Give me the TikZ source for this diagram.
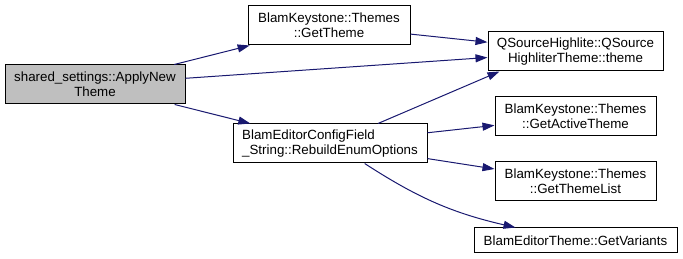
\documentclass[tikz,border=0pt]{standalone}
\usepackage{fontspec}
\setmainfont{Liberation Sans}
\usepackage{tikz}
\usetikzlibrary{arrows.meta,calc,positioning}
\definecolor{edgeblue}{HTML}{191970}
\definecolor{rootgray}{HTML}{BFBFBF}

\begin{document}
\begin{tikzpicture}[x=0.75pt,y=-0.75pt,
    fn/.style={draw=black,line width=0.75pt,fill=white,inner sep=1pt,
        minimum height=29.25pt,align=center,
        font=\fontsize{10}{11}\selectfont},
    edge/.style={draw=edgeblue,line width=0.75pt,
        -{Triangle[length=9pt,width=6pt]}}]
            \useasboundingbox (0,0) rectangle (683,259);
            %Nodes
            \node[fn,fill=rootgray,minimum width=135pt] (root) at (95,84.5)
                {shared\_settings::ApplyNew\\Theme};
            \node[fn,minimum width=121.5pt] (gettheme) at (329,25.5)
                {BlamKeystone::Themes\\::GetTheme};
            \node[fn,minimum width=145.5pt,align=left] (rebuild) at (330,143.5)
                {BlamEditorConfigField\\\_String::RebuildEnumOptions};
            \node[fn,minimum width=131.25pt] (qsource) at (575.5,51.5)
                {QSourceHighlite::QSource\\HighliterTheme::theme};
            \node[fn,minimum width=120.75pt] (getactive) at (575.5,116.5)
                {BlamKeystone::Themes\\::GetActiveTheme};
            \node[fn,minimum width=120.75pt] (getlist) at (575.5,181.5)
                {BlamKeystone::Themes\\::GetThemeList};
            \node[fn,minimum width=152.25pt,minimum height=18.75pt] (getvariants) at (575.5,240.5)
                {BlamEditorTheme::GetVariants};
            %Edges
            \draw[edge] (root) -- (gettheme);
            \draw[edge] (root) -- (qsource);
            \draw[edge] (root) -- (rebuild);
            \draw[edge] (gettheme) -- (qsource);
            \draw[edge] ([xshift=36pt]rebuild.north) -- ([xshift=9pt]qsource.south west);
            \draw[edge] (rebuild) -- (getactive);
            \draw[edge] (rebuild) -- (getlist);
            \draw[edge] ([xshift=26pt]rebuild.south) to[bend right=10] ([xshift=-45pt]getvariants.north);
        \end{tikzpicture}
\end{document}
